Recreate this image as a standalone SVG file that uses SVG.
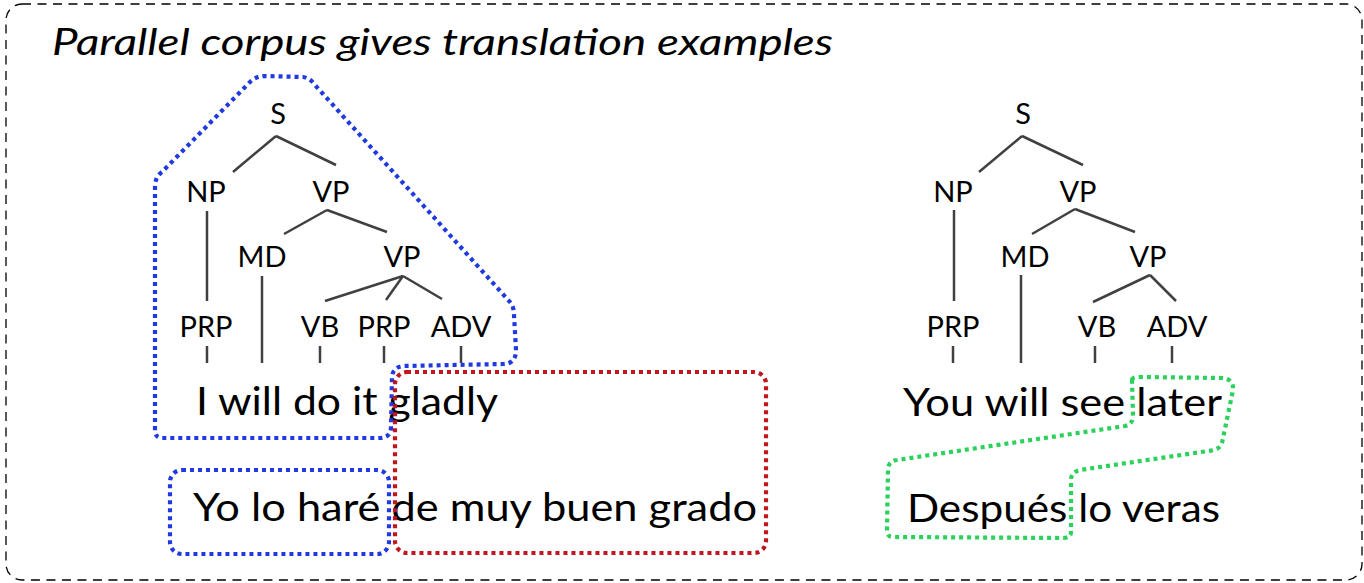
<svg xmlns="http://www.w3.org/2000/svg" width="1364" height="583" viewBox="0 0 1364 583">
<style>
.lbl{font-family:Lato,"Open Sans","Liberation Sans",sans-serif;font-size:29px;fill:#000;text-anchor:middle}
.sent{font-family:Lato,"Open Sans","Liberation Sans",sans-serif;font-size:38px;fill:#000}
.title{font-family:Lato,"Open Sans","Liberation Sans",sans-serif;font-size:37px;font-style:italic;fill:#000}
.edge{stroke:#404040;stroke-width:2.5;fill:none}
.dot{fill:none;stroke-width:4.2;stroke-dasharray:4 4}
</style>
<rect id="frame" x="6" y="4" width="1356" height="576" rx="16" fill="#fff" stroke="#000" stroke-width="1.3" stroke-dasharray="9 6.5"/>
<text id="title" class="title" x="52" y="55" textLength="781" lengthAdjust="spacingAndGlyphs">Parallel corpus gives translation examples</text>

<g id="connectors">
  <line class="edge" x1="276" y1="136" x2="233" y2="172"/>
  <line class="edge" x1="276" y1="136" x2="336" y2="165"/>
  <line class="edge" x1="207" y1="211" x2="207" y2="301"/>
  <line class="edge" x1="327" y1="210" x2="284" y2="234"/>
  <line class="edge" x1="327" y1="210" x2="387" y2="232"/>
  <line class="edge" x1="262" y1="276" x2="262" y2="363"/>
  <line class="edge" x1="403" y1="276" x2="325" y2="301"/>
  <line class="edge" x1="403" y1="276" x2="386" y2="300"/>
  <line class="edge" x1="403" y1="276" x2="442" y2="299"/>
  <line class="edge" x1="207" y1="346" x2="207" y2="363"/>
  <line class="edge" x1="320" y1="346" x2="320" y2="363"/>
  <line class="edge" x1="384" y1="346" x2="384" y2="363"/>
  <line class="edge" x1="461" y1="346" x2="461" y2="363"/>

  <line class="edge" x1="1022" y1="136" x2="979" y2="172"/>
  <line class="edge" x1="1022" y1="136" x2="1083" y2="165"/>
  <line class="edge" x1="954" y1="210" x2="954" y2="301"/>
  <line class="edge" x1="1075" y1="209" x2="1032" y2="234"/>
  <line class="edge" x1="1075" y1="209" x2="1135" y2="232"/>
  <line class="edge" x1="1021" y1="275" x2="1021" y2="363"/>
  <line class="edge" x1="1150" y1="275" x2="1093" y2="302"/>
  <line class="edge" x1="1150" y1="275" x2="1176" y2="301"/>
  <line class="edge" x1="953" y1="346" x2="953" y2="363"/>
  <line class="edge" x1="1095" y1="346" x2="1095" y2="363"/>
  <line class="edge" x1="1172" y1="346" x2="1172" y2="363"/>
</g>

<g id="tree-left">
  <text class="lbl" x="278" y="124">S</text>
  <text class="lbl" x="206" y="202">NP</text>
  <text class="lbl" x="331" y="202">VP</text>
  <text class="lbl" x="262" y="267">MD</text>
  <text class="lbl" x="402" y="267">VP</text>
  <text class="lbl" x="206" y="337">PRP</text>
  <text class="lbl" x="320" y="337">VB</text>
  <text class="lbl" x="384" y="337">PRP</text>
  <text class="lbl" x="461" y="337">ADV</text>
</g>
<g id="tree-right">
  <text class="lbl" x="1023" y="124">S</text>
  <text class="lbl" x="953" y="202">NP</text>
  <text class="lbl" x="1078" y="202">VP</text>
  <text class="lbl" x="1025" y="267">MD</text>
  <text class="lbl" x="1148" y="267">VP</text>
  <text class="lbl" x="953" y="337">PRP</text>
  <text class="lbl" x="1097" y="337">VB</text>
  <text class="lbl" x="1177" y="337">ADV</text>
</g>

<g id="sentences">
  <text class="sent" x="196" y="415" textLength="302" lengthAdjust="spacingAndGlyphs">I will do it gladly</text>
  <text class="sent" x="193" y="521" textLength="564" lengthAdjust="spacingAndGlyphs">Yo lo haré de muy buen grado</text>
  <text class="sent" x="903" y="416" textLength="319" lengthAdjust="spacingAndGlyphs">You will see later</text>
  <text class="sent" x="907" y="522" textLength="313" lengthAdjust="spacingAndGlyphs">Después lo veras</text>
</g>

<g id="blue-source">
  <path class="dot" stroke="#1e3ae0" d="M155,430 L155,187 Q155,177 162,172 L250,82 Q256,76 265,76 L303,77 Q310,78 315,85 L510,302 Q514,307 514,315 L516,350 Q516,364 503,364 L403,366 Q393,367 392,377 L391,428 Q390,438 380,438 L162,438 Q155,438 155,430 Z"/>
</g>
<g id="blue-target">
  <rect class="dot" stroke="#1e3ae0" x="170" y="470" width="219" height="84" rx="12"/>
</g>
<g id="red-box">
  <rect class="dot" stroke="#c0161e" x="395" y="372" width="371" height="181" rx="12"/>
</g>
<g id="green-box">
  <path class="dot" stroke="#2bd15a" d="M1132,380 Q1132,377 1140,377 L1222,378 Q1234,379 1233,390 L1222,443 Q1220,450 1208,451 L1080,470 Q1071,472 1071,480 L1071,532 Q1071,538 1063,538 L893,537 Q887,537 887,530 L888,470 Q888,461 897,460 L1125,426 Q1133,424 1133,416 Z"/>
</g>
</svg>
